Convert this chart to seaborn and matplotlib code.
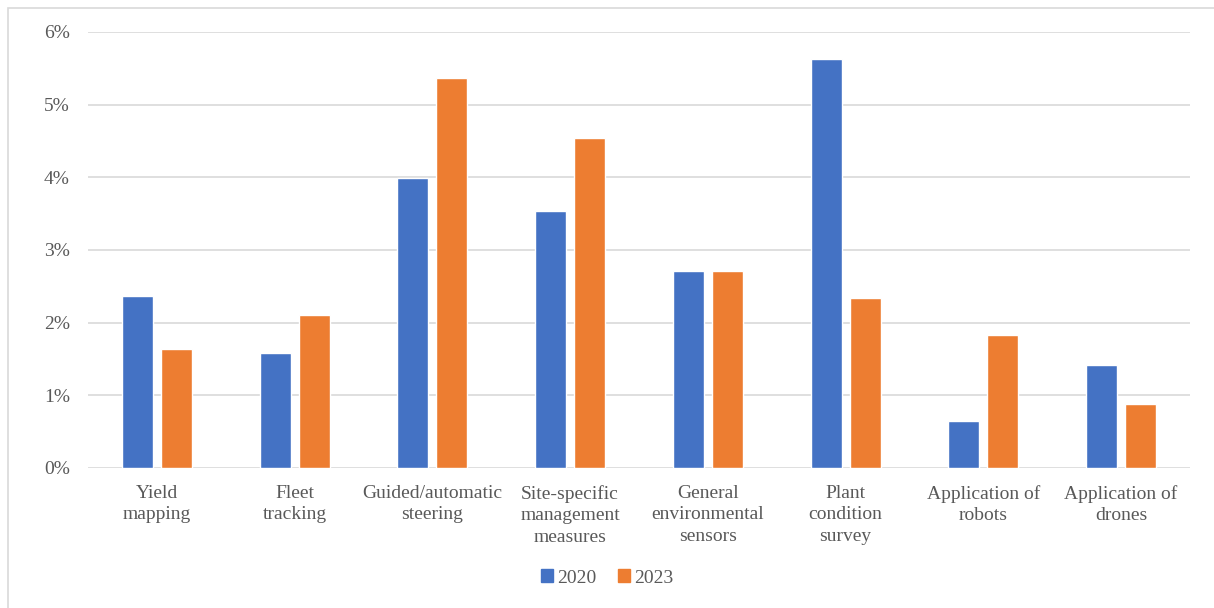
import matplotlib
matplotlib.use("Agg")
import matplotlib.pyplot as plt
import matplotlib.patches as mpatches
from matplotlib.ticker import PercentFormatter
import pandas as pd
import seaborn as sns

# data (share of farms, %)
categories = [
    "Yield\nmapping",
    "Fleet\ntracking",
    "Guided/automatic\nsteering",
    "Site-specific\nmanagement\nmeasures",
    "General\nenvironmental\nsensors",
    "Plant\ncondition\nsurvey",
    "Application of\nrobots",
    "Application of\ndrones",
]
values_2020 = [2.37, 1.58, 3.99, 3.54, 2.71, 5.63, 0.65, 1.42]
values_2023 = [1.64, 2.11, 5.37, 4.54, 2.71, 2.34, 1.83, 0.88]
years = ["2020", "2023"]

df = pd.DataFrame({
    "category": categories * 2,
    "value": values_2020 + values_2023,
    "year": [years[0]] * len(categories) + [years[1]] * len(categories),
})

sns.set_style("white")
plt.rcParams["font.family"] = ["Liberation Serif", "DejaVu Serif"]
text_color = "#595959"
fs = 14

fig = plt.figure(figsize=(12.14, 6.08), dpi=100)
ax = fig.add_axes([88 / 1214, 1 - 468 / 608, (1190 - 88) / 1214, (468 - 32) / 608])

sns.barplot(
    data=df, x="category", y="value", hue="year",
    palette=["#4472C4", "#ED7D31"], width=0.565, gap=0.2,
    saturation=1, ax=ax, legend=True,
)

ax.set_ylim(0, 6)
ax.set_yticks(range(0, 7))
ax.yaxis.set_major_formatter(PercentFormatter(decimals=0))
ax.grid(axis="y", color="#D9D9D9", linewidth=1.2)
ax.set_axisbelow(True)
for s in ax.spines.values():
    s.set_visible(False)
ax.set_xlabel("")
ax.set_ylabel("")
ax.tick_params(axis="both", length=0, labelsize=fs, colors=text_color)
ax.tick_params(axis="x", pad=12)
ax.tick_params(axis="y", pad=13)
for lbl in ax.get_xticklabels():
    lbl.set_linespacing(1.35)

ax.legend_.remove()
handles = [mpatches.Patch(color=c) for c in ["#4472C4", "#ED7D31"]]
fig.legend(handles, years, loc="center", bbox_to_anchor=(0.5, 1 - 578 / 608),
           ncol=2, frameon=False, fontsize=fs, labelcolor=text_color,
           handlelength=0.65, handleheight=0.65, handletextpad=0.2, columnspacing=1.1)

# thin grey frame around the chart area
fig.add_artist(mpatches.Rectangle((8 / 1214, -0.1), 1.2, 1.1 - 8 / 608,
                                  transform=fig.transFigure, fill=False,
                                  edgecolor="#D9D9D9", linewidth=1.2))

fig.savefig("out.png", dpi=100)
